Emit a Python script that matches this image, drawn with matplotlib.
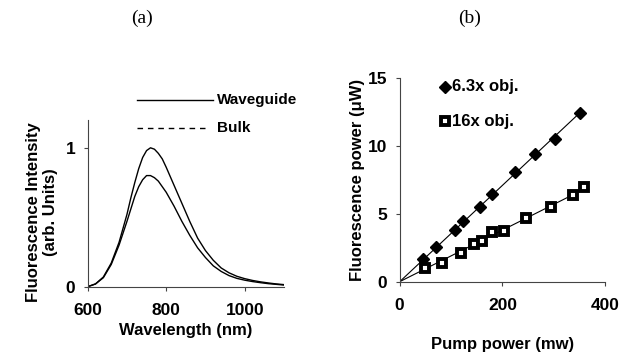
import matplotlib.pyplot as plt
import numpy as np

plt.rcParams['font.family'] = ['Liberation Sans', 'DejaVu Sans']
plt.rcParams['font.weight'] = 'bold'
plt.rcParams['axes.labelweight'] = 'bold'

# (a) fluorescence spectra
wavelength = [600, 620, 640, 660, 680, 700, 710, 720, 730, 740, 750, 760, 770, 780, 790,
              800, 820, 840, 860, 880, 900, 920, 940, 960, 980, 1000, 1020, 1040,
              1060, 1080, 1100]
waveguide = [0.0, 0.02, 0.07, 0.17, 0.32, 0.52, 0.64, 0.75, 0.85, 0.93, 0.98, 1.00, 0.99,
             0.96, 0.92, 0.86, 0.73, 0.60, 0.47, 0.35, 0.26, 0.19, 0.135, 0.10, 0.075,
             0.058, 0.045, 0.035, 0.027, 0.02, 0.015]
bulk = [0.0, 0.02, 0.065, 0.16, 0.30, 0.47, 0.56, 0.65, 0.72, 0.77, 0.80, 0.80, 0.785,
        0.76, 0.72, 0.68, 0.58, 0.47, 0.37, 0.28, 0.21, 0.15, 0.11, 0.08, 0.06,
        0.047, 0.037, 0.029, 0.022, 0.017, 0.012]

# (b) fluorescence power vs pump power
pump_63 = [45, 71, 107, 124, 156, 180, 224, 263, 302, 350]
power_63 = [1.67, 2.54, 3.81, 4.48, 5.53, 6.47, 8.11, 9.39, 10.52, 12.42]
pump_16 = [49, 83, 120, 144, 161, 180, 203, 246, 295, 337, 358]
power_16 = [0.99, 1.36, 2.14, 2.78, 3.0, 3.64, 3.76, 4.72, 5.49, 6.39, 6.96]

fig = plt.figure(figsize=(6.24, 3.53), dpi=100)
fs_lab = 12
fs_tick = 12.5

# ---- panel (a)
ax1 = fig.add_axes([0.1405, 0.1878, 0.3146, 0.4722])
ax1.plot(wavelength, waveguide, color='black', lw=1.0)
ax1.plot(wavelength, bulk, color='black', lw=1.0)
ax1.set_xlim(600, 1100)
ax1.set_ylim(0, 1.2)
ax1.set_xticks([600, 800, 1000])
ax1.set_yticks([0, 1])
ax1.set_xlabel('Wavelength (nm)', fontsize=fs_lab, labelpad=3)
ax1.set_ylabel('Fluorescence Intensity\n(arb. Units)', fontsize=fs_lab)
ax1.yaxis.set_label_coords(-0.15, 0.45)

ax1.plot([725, 919], [1.343, 1.343], color='black', lw=1.0, clip_on=False)
ax1.plot([725, 898], [1.142, 1.142], color='black', lw=1.0, ls=(0, (4, 3.5)),
         clip_on=False)
ax1.text(929, 1.343, 'Waveguide', fontsize=11, va='center', ha='left')
ax1.text(929, 1.142, 'Bulk', fontsize=11, va='center', ha='left')

# ---- panel (b)
ax2 = fig.add_axes([0.6405, 0.202, 0.3295, 0.5762])
x63 = np.array(pump_63)
x16 = np.array(pump_16)
k63 = np.sum(x63 * np.array(power_63)) / np.sum(x63 ** 2)
k16 = np.sum(x16 * np.array(power_16)) / np.sum(x16 ** 2)
ax2.plot([0, x63.max()], [0, k63 * x63.max()], color='black', lw=0.8)
ax2.plot([0, x16.max()], [0, k16 * x16.max()], color='black', lw=0.8)
ax2.plot(pump_63, power_63, ls='none', marker='D', ms=6.5, color='black')
ax2.plot(pump_16, power_16, ls='none', marker='s', ms=5.5, mfc='white',
         mec='black', mew=2.8)
ax2.set_xlim(0, 400)
ax2.set_ylim(0, 15)
ax2.set_xticks([0, 200, 400])
ax2.set_yticks([0, 5, 10, 15])
ax2.set_xlabel('Pump power (mw)', fontsize=fs_lab, labelpad=17)
ax2.set_ylabel('Fluorescence power (\u03bcW)', fontsize=fs_lab, labelpad=2)

ax2.plot([87.5], [14.38], marker='D', ms=6.5, color='black', clip_on=False)
ax2.plot([87.5], [11.85], marker='s', ms=5.5, mfc='white', mec='black', mew=2.8,
         clip_on=False)
ax2.text(102, 14.38, '6.3x obj.', fontsize=12, va='center', ha='left')
ax2.text(102, 11.85, '16x obj.', fontsize=12, va='center', ha='left')

for ax in (ax1, ax2):
    for side in ('top', 'right'):
        ax.spines[side].set_visible(False)
    for side in ('left', 'bottom'):
        ax.spines[side].set_color('#444444')
        ax.spines[side].set_linewidth(0.8)
    ax.tick_params(labelsize=fs_tick, length=3, width=0.8, color='#444444')
    ax.tick_params(axis='x', pad=9)
    ax.tick_params(axis='y', pad=6)

fig.text(142 / 624, 1 - 18 / 353, '(a)', fontsize=14, family='Liberation Serif',
         weight='normal', ha='center', va='center')
fig.text(470 / 624, 1 - 18 / 353, '(b)', fontsize=14, family='Liberation Serif',
         weight='normal', ha='center', va='center')

fig.savefig('out.png', dpi=100)
